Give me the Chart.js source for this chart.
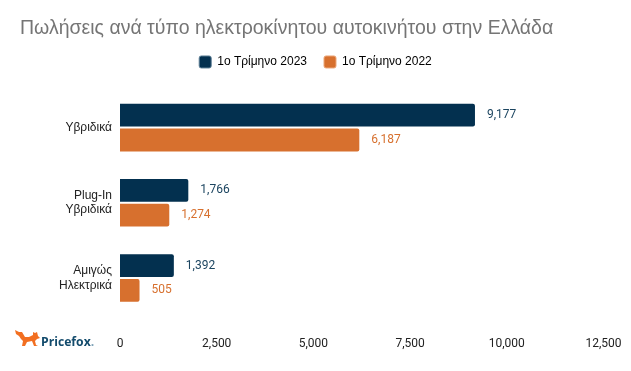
<!DOCTYPE html>
<html>
<head>
<meta charset="utf-8">
<script src="https://cdn.jsdelivr.net/npm/chart.js@4"></script>
<style>
  html, body { margin: 0; padding: 0; background: #fff; }
  #wrap { position: relative; width: 631px; height: 371px; overflow: hidden; }
  #logo { position: absolute; left: 14px; top: 329px; }
  #logoText { position: absolute; left: 41px; top: 333px; font: bold 12.2px "Open Sans"; color: #134b6c; }
</style>
</head>
<body>
<div id="wrap">
  <canvas id="myChart" width="631" height="371"></canvas>
  <svg id="logo" width="26" height="18" viewBox="0 0 26 18">
    <path fill="#f26f21" d="M1 1 L5 3 L8 3 L11 8 L15 8 L19 6 L19 3 L21 4 L23 3 L24 7 L26 9 L23 10 L21 12 L22 16 L24 17 L20 17 L18 12 L13 13 L11 17 L8 17 L9 12 L7 10 L5 7 L2 5 Z"/>
  </svg>
  <div id="logoText">Pricefox<span style="color:#7fa3b8">.</span></div>
</div>
<script>
const categories = ["Υβριδικά", ["Plug-In", "Υβριδικά"], ["Αμιγώς", "Ηλεκτρικά"]];
const q1_2023 = [9177, 1766, 1392];
const q1_2022 = [6187, 1274, 505];
const seriesNames = ["1ο Τρίμηνο 2023", "1ο Τρίμηνο 2022"];
const blue = "#03304f";
const orange = "#d7702e";
const boxEdges = ["#5d7f96", "#eba77a"];
const legendGap = 12;

// values next to the bars
const barLabels = {
  id: "barLabels",
  beforeLayout(chart) {
    // extra room under the legend
    if (chart.legend.patched) return;
    const fit = chart.legend.fit;
    chart.legend.fit = function () {
      fit.call(this);
      this.height += legendGap;
    };
    chart.legend.patched = true;
  },
  afterDatasetsDraw(chart) {
    const ctx = chart.ctx;
    ctx.save();
    ctx.font = "12px Roboto";
    ctx.textBaseline = "middle";
    chart.data.datasets.forEach((ds, i) => {
      ctx.fillStyle = i === 0 ? "#1c4560" : orange;
      chart.getDatasetMeta(i).data.forEach((bar, j) => {
        ctx.fillText(ds.data[j].toLocaleString("en-US"), bar.x + 12, bar.y);
      });
    });
    ctx.restore();
  }
};

let mychart = new Chart(document.getElementById("myChart"), {
  type: "bar",
  data: {
    labels: categories,
    datasets: [
      { label: seriesNames[0], data: q1_2023, backgroundColor: blue, borderRadius: 2 },
      { label: seriesNames[1], data: q1_2022, backgroundColor: orange, borderRadius: 2 }
    ]
  },
  plugins: [barLabels],
  options: {
    indexAxis: "y",
    responsive: false,
    animation: false,
    categoryPercentage: 0.66,
    barPercentage: 0.92,
    layout: { padding: { left: 20, right: 20, top: 18.5, bottom: 6 } },
    plugins: {
      tooltip: { enabled: false },
      title: {
        display: true,
        text: "Πωλήσεις ανά τύπο ηλεκτροκίνητου αυτοκινήτου στην Ελλάδα",
        align: "start",
        color: "#757575",
        font: { family: "Liberation Sans", size: 19.5, weight: "normal", lineHeight: 1.05 },
        padding: { top: 0, bottom: 0 }
      },
      legend: {
        position: "top",
        labels: {
          color: "#222",
          font: { family: "Liberation Sans", size: 12 },
          boxWidth: 12,
          boxHeight: 12,
          padding: 17,
          generateLabels(chart) {
            return chart.data.datasets.map((ds, i) => ({
              text: ds.label,
              fillStyle: ds.backgroundColor,
              strokeStyle: boxEdges[i],
              lineWidth: 1,
              datasetIndex: i,
              borderRadius: 2
            }));
          }
        }
      }
    },
    scales: {
      x: {
        min: 0,
        max: 12500,
        grid: { display: false },
        border: { display: false },
        ticks: {
          stepSize: 2500,
          maxRotation: 0,
          color: "#222",
          font: { family: "Roboto", size: 12 },
          padding: 13.5
        },
        afterFit(scale) { scale.paddingRight = 27.5; scale.paddingLeft = 0; }
      },
      y: {
        grid: { display: false },
        border: { display: false },
        ticks: {
          color: "#222",
          font: { family: "Liberation Sans", size: 12 },
          padding: 0,
          autoSkip: false
        },
        afterFit(scale) { scale.width = 100; }
      }
    }
  }
});
</script>
</body>
</html>
